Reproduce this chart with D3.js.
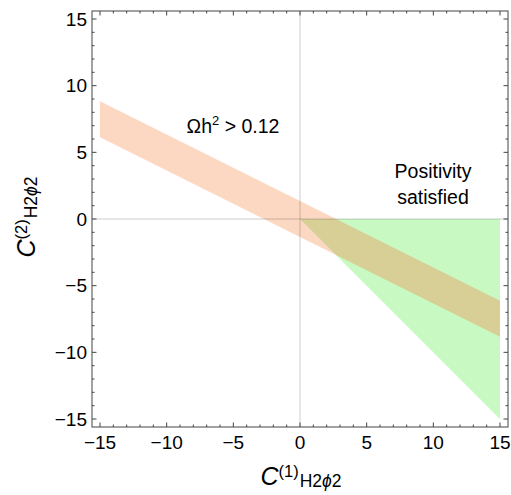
<!DOCTYPE html>
<html>
<head>
<meta charset="utf-8">
<script src="https://cdn.jsdelivr.net/npm/d3@7"></script>
<style>
  body { margin: 0; background: #fff; }
  svg { display: block; }
  text { font-family: "Liberation Sans", Arial, sans-serif; fill: #000; }
</style>
</head>
<body>
<svg id="chart" width="511" height="495"></svg>
<script>
const bandX = [-15, 15];
const bandUpper = [8.84, -6.14];
const bandLower = [6.13, -8.83];

// positivity region (triangle)
const posX = [0, 15, 15];
const posY = [0, 0, -15];

const majorTicks = [-15, -10, -5, 0, 5, 10, 15];
const minorTicks = d3.range(-15, 16, 1);

const svg = d3.select("#chart");
const frame = { left: 92, right: 508, top: 11, bottom: 427 };

const x = d3.scaleLinear().domain([-15.6, 15.6]).range([frame.left, frame.right]);
const y = d3.scaleLinear().domain([-15.6, 15.6]).range([frame.bottom, frame.top]);

const fmt = (d) => (d < 0 ? "\u2212" + Math.abs(d) : String(d));

const bandPts = bandX.map((d, i) => [d, bandUpper[i]])
  .concat(bandX.map((d, i) => [d, bandLower[i]]).reverse());
const posPts = posX.map((d, i) => [d, posY[i]]);

const poly = (pts) => "M" + pts.map((p) => `${x(p[0])},${y(p[1])}`).join("L") + "Z";

svg.append("defs").append("clipPath").attr("id", "posClip")
  .append("path").attr("d", poly(posPts));

// fills
svg.append("path").attr("d", poly(bandPts)).attr("fill", "#fcd8c3");
svg.append("path").attr("d", poly(posPts)).attr("fill", "#c8f9c3");
svg.append("path").attr("d", poly(bandPts)).attr("fill", "#d7cf95")
  .attr("clip-path", "url(#posClip)");

// zero lines
svg.append("line")
  .attr("x1", x(0)).attr("x2", x(0)).attr("y1", frame.top).attr("y2", frame.bottom)
  .attr("stroke", "rgba(0,0,0,0.2)");
svg.append("line")
  .attr("x1", frame.left).attr("x2", frame.right).attr("y1", y(0)).attr("y2", y(0))
  .attr("stroke", "rgba(0,0,0,0.2)");

// frame with inward ticks on every side
const axisG = svg.append("g").attr("stroke", "#444").attr("stroke-width", 1);
axisG.append("rect")
  .attr("x", frame.left).attr("y", frame.top)
  .attr("width", frame.right - frame.left).attr("height", frame.bottom - frame.top)
  .attr("fill", "none");

minorTicks.forEach((t) => {
  const len = majorTicks.includes(t) ? 4.5 : 2.5;
  axisG.append("line").attr("x1", x(t)).attr("x2", x(t))
    .attr("y1", frame.bottom).attr("y2", frame.bottom - len);
  axisG.append("line").attr("x1", x(t)).attr("x2", x(t))
    .attr("y1", frame.top).attr("y2", frame.top + len);
  axisG.append("line").attr("y1", y(t)).attr("y2", y(t))
    .attr("x1", frame.left).attr("x2", frame.left + len);
  axisG.append("line").attr("y1", y(t)).attr("y2", y(t))
    .attr("x1", frame.right).attr("x2", frame.right - len);
});

// tick labels
svg.append("g").selectAll("text").data(majorTicks).join("text")
  .attr("x", (d) => x(d)).attr("y", 449)
  .attr("text-anchor", "middle").attr("font-size", 19)
  .text(fmt);
svg.append("g").selectAll("text").data(majorTicks).join("text")
  .attr("x", 87).attr("y", (d) => y(d)).attr("dy", "0.35em")
  .attr("text-anchor", "end").attr("font-size", 19)
  .text(fmt);

// axis titles
function axisTitle(g, sup) {
  const t = g.append("text").attr("text-anchor", "middle");
  t.append("tspan").attr("font-size", 25).attr("font-style", "italic").text("C");
  t.append("tspan").attr("font-size", 16.5).attr("dy", -8).text(sup);
  const s = t.append("tspan").attr("font-size", 17.5).attr("dy", 10).attr("dx", 1);
  s.append("tspan").text("H2");
  s.append("tspan").attr("font-style", "italic").text("\u03d5");
  s.append("tspan").text("2");
  return t;
}
axisTitle(svg.append("g").attr("transform", "translate(301,485)"), "(1)");
axisTitle(svg.append("g").attr("transform", "translate(35,217) rotate(-90)"), "(2)");

// annotations
const om = svg.append("text").attr("x", 233).attr("y", 133)
  .attr("text-anchor", "middle").attr("font-size", 19.5);
om.append("tspan").text("\u03a9h");
om.append("tspan").attr("font-size", 13).attr("dy", -8).text("2");
om.append("tspan").attr("dy", 8).text(" > 0.12");

svg.append("text").attr("x", 433).attr("y", 178)
  .attr("text-anchor", "middle").attr("font-size", 19.5).text("Positivity");
svg.append("text").attr("x", 433).attr("y", 204)
  .attr("text-anchor", "middle").attr("font-size", 19.5).text("satisfied");
</script>
</body>
</html>
